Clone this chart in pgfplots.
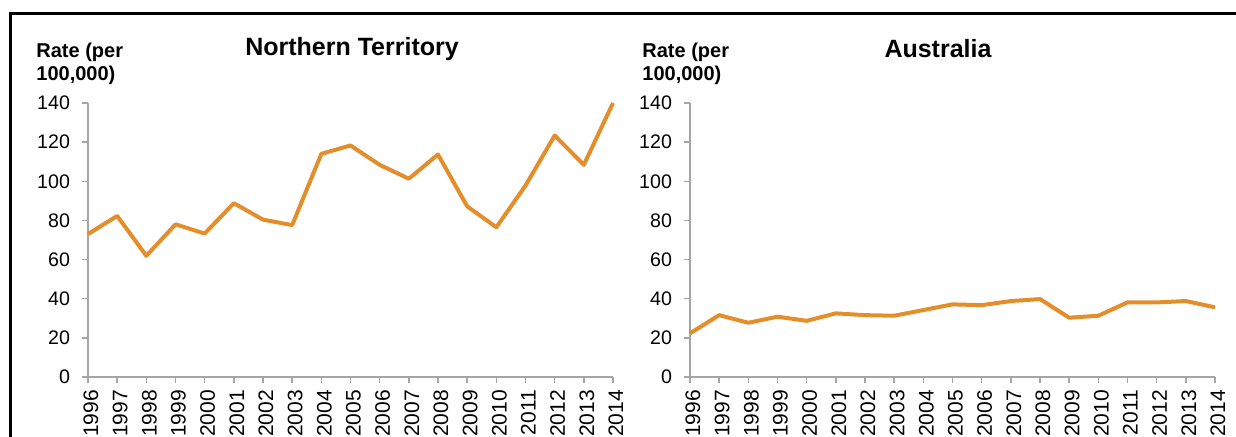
\documentclass[border=0pt]{standalone}
\usepackage{fontspec}
\setmainfont{Liberation Sans}
\usepackage{pgfplots}
\pgfplotsset{compat=1.18}
\definecolor{lineor}{RGB}{228,142,43}
\definecolor{axgray}{RGB}{165,165,165}
\pgfplotsset{myax/.style={
  width=262.5pt, height=137pt, scale only axis,
  xmin=1996, xmax=2014, ymin=0, ymax=140,
  axis x line*=bottom, axis y line*=left,
  xtick={1996,1997,...,2014}, ytick={0,20,...,140},
  /pgf/number format/1000 sep={},
  /pgf/number format/assume math mode=true,
  tick label style={font=\fontsize{9.8}{11}\selectfont, black},
  x tick label style={rotate=90, anchor=east, yshift=-1.5pt, font=\fontsize{10.5}{11}\selectfont},
  y tick label style={xshift=-2.5pt},
  tick align=outside, major tick length=3pt,
  axis line style={axgray, line width=0.75pt},
  every tick/.style={axgray, line width=0.75pt},
  clip=false,
}}
\begin{document}
\begin{tikzpicture}
\useasboundingbox (0,0) rectangle (618pt,218.5pt);
\draw[line width=1.5pt] (5pt,-5pt) -- (5pt,211.5pt) -- (625pt,211.5pt);
\begin{axis}[myax, at={(44pt,30pt)}, anchor=south west]
\addplot[lineor, line width=2pt, line join=round] coordinates {
(1996,73.0) (1997,82.3) (1998,61.9) (1999,78.0) (2000,73.3) (2001,88.8)
(2002,80.4) (2003,77.6) (2004,114.0) (2005,118.3) (2006,108.4) (2007,101.3)
(2008,113.7) (2009,87.2) (2010,76.5) (2011,97.8) (2012,123.4) (2013,108.4) (2014,140.0)};
\end{axis}
\begin{axis}[myax, at={(345pt,30pt)}, anchor=south west]
\addplot[lineor, line width=2pt, line join=round] coordinates {
(1996,22.3) (1997,31.6) (1998,27.7) (1999,30.8) (2000,28.7) (2001,32.5)
(2002,31.6) (2003,31.3) (2004,34.2) (2005,37.1) (2006,36.7) (2007,38.8)
(2008,39.8) (2009,30.3) (2010,31.3) (2011,38.1) (2012,38.1) (2013,38.8) (2014,35.6)};
\end{axis}
\node[font=\fontsize{12.5}{14}\selectfont\bfseries] at (176pt,194pt) {Northern Territory};
\node[font=\fontsize{12.5}{14}\selectfont\bfseries] at (469pt,194pt) {Australia};
\node[font=\fontsize{10}{11.5}\selectfont\bfseries, align=left, anchor=north west, inner sep=0pt] at (18pt,197pt) {Rate (per\\100,000)};
\node[font=\fontsize{10}{11.5}\selectfont\bfseries, align=left, anchor=north west, inner sep=0pt] at (321pt,197pt) {Rate (per\\100,000)};
\end{tikzpicture}
\end{document}
